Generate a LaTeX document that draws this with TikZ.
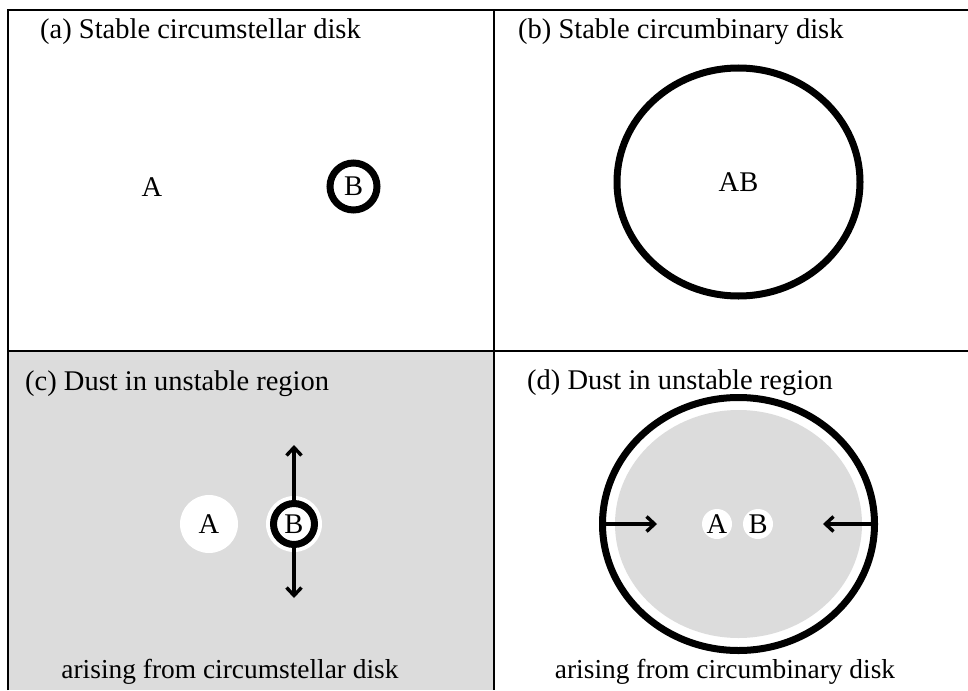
\documentclass[tikz,border=0pt]{standalone}
\usepackage{fontspec}
\setmainfont{Liberation Serif}
\usetikzlibrary{shapes.geometric,arrows.meta}
\definecolor{dustgray}{RGB}{220,220,220}
\begin{document}
\begin{tikzpicture}[x=1pt,y=-1pt,
  bigfont/.style={font=\fontsize{28.5}{32}\selectfont},
  txt/.style={bigfont, inner sep=0pt},
  title/.style={txt, anchor=base west},
  note/.style={inner sep=0pt, anchor=base, font=\fontsize{27.4}{31}\selectfont},
  frameline/.style={line width=2pt, black},
  ring/.style={circle, draw=black, line width=7pt, inner sep=0pt, bigfont},
  halo/.style={circle, fill=white, inner sep=0pt, bigfont},
  push/.style={line width=3.4pt, -{Straight Barb[length=8pt,width=15pt]}}
]
\useasboundingbox (0,0) rectangle (968,690);

% shaded panel (c)
\fill[dustgray] (8,351) rectangle (494,690);

% table frame
\draw[frameline] (8,690) -- (8,10) -- (968,10);
\draw[frameline] (494,10) -- (494,690);
\draw[frameline] (8,351) -- (968,351);

% (a) circumstellar disk around B
\node[title] (ta) at (40,39) {(a) Stable circumstellar disk};
\node[txt] (aA) at (152,187) {A};
\node[ring, minimum size=47pt] (aB) at (353.5,186.5) {B};

% (b) circumbinary disk around AB
\node[title] (tb) at (518,39) {(b) Stable circumbinary disk};
\node[ellipse, draw=black, line width=7pt, minimum width=243pt, minimum height=228pt,
      inner sep=0pt, bigfont] (bAB) at (738.5,182) {AB};

% (c) dust in unstable region, circumstellar case
\node[title] (tc) at (25,390) {(c) Dust in unstable region};
\node[halo, minimum size=58pt] (cA) at (209,524) {A};
\node[halo, minimum size=56pt] (cBh) at (294,524) {};
\node[ring, minimum size=41pt] (cB) at (294,524) {B};
\coordinate (cup) at (294,445);
\coordinate (cdown) at (294,598);
\draw[push] (cB.north) -- (cup);
\draw[push] (cB.south) -- (cdown);
\node[note] (cnote) at (230,678) {arising from circumstellar disk};

% (d) dust in unstable region, circumbinary case
\node[title] (td) at (527,389) {(d) Dust in unstable region};
\node[ellipse, draw=black, fill=white, line width=7pt, minimum width=272pt, minimum height=253pt,
      inner sep=0pt] (dring) at (738.5,524) {};
\node[ellipse, fill=dustgray, minimum width=247pt, minimum height=228pt, inner sep=0pt] (ddust) at (738.5,524) {};
\node[halo, minimum size=30pt] (dA) at (717,524) {A};
\node[halo, minimum size=30pt] (dB) at (758,524) {B};
\coordinate (dl) at (657,524);
\coordinate (dr) at (823,524);
\draw[push] (dring.west) -- (dl);
\draw[push] (dring.east) -- (dr);
\node[note] (dnote) at (725,678) {arising from circumbinary disk};
\end{tikzpicture}
\end{document}
